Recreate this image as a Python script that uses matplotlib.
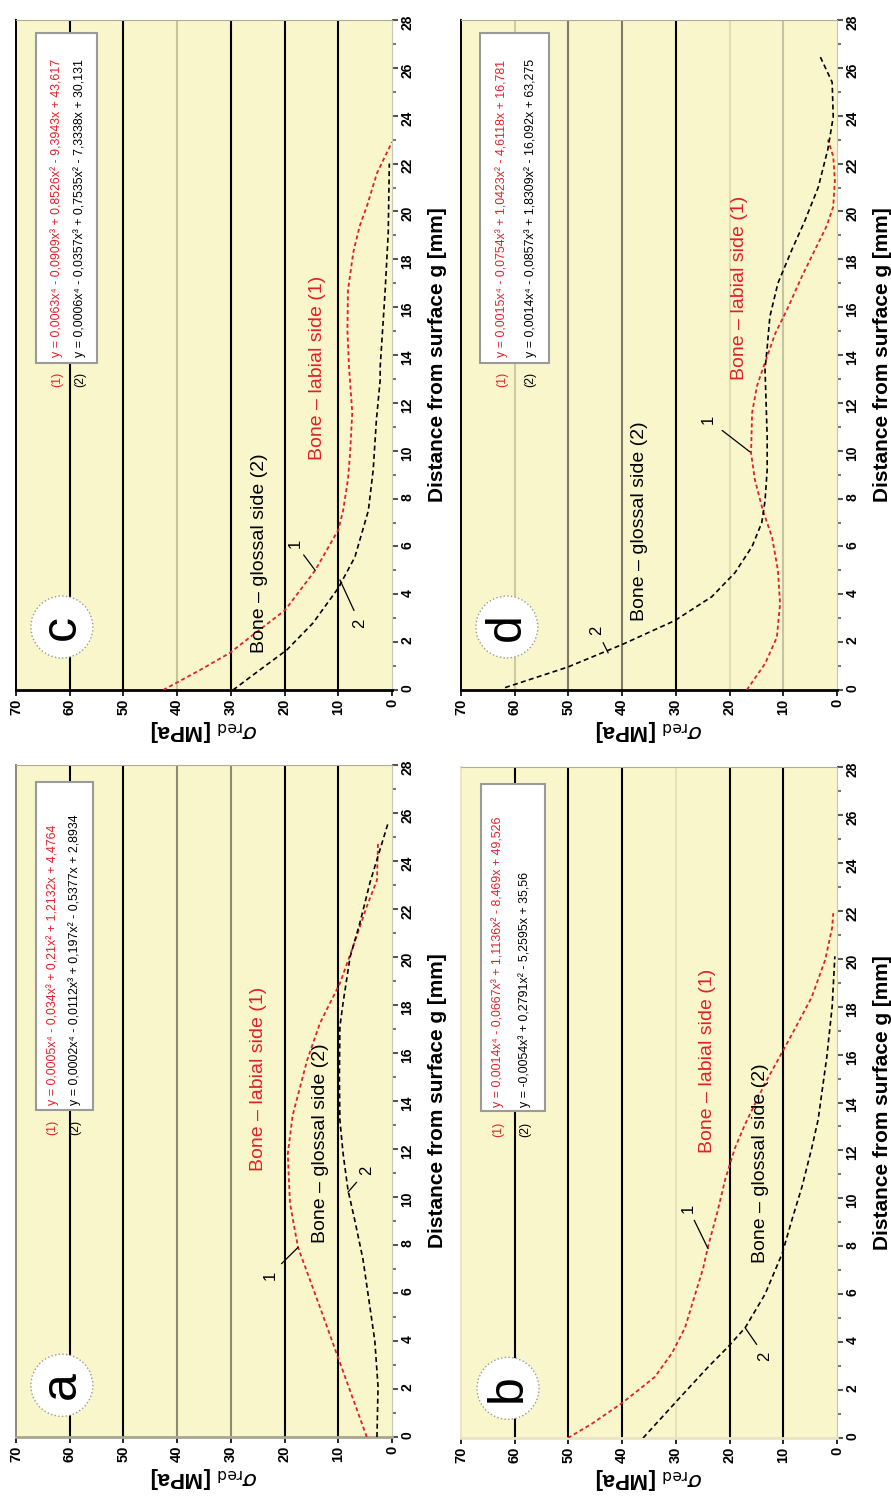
import numpy as np
import matplotlib.pyplot as plt
from matplotlib import font_manager
from matplotlib.font_manager import FontProperties
from matplotlib.patches import Ellipse, Rectangle


def has_font(name):
    try:
        font_manager.findfont(FontProperties(family=name), fallback_to_default=False)
        return True
    except Exception:
        return False


# the equations use a condensed face; fall back to a smaller regular one
if has_font('Liberation Sans Narrow'):
    NARROW, EQ_SIZE = 'Liberation Sans Narrow', 11.0
else:
    NARROW, EQ_SIZE = 'Liberation Sans', 8.9
plt.rcParams['font.family'] = ['Liberation Sans', 'DejaVu Sans']

# ---- data (g = distance [mm], s = sigma red [MPa]) ----
# panel a
a_lab_g = [0, 3.1, 5.4, 7.9, 9.75, 11.8, 13.4, 15.7, 17.25, 18.9, 20.4, 22.1, 23.2, 24.8]
a_lab_s = [4.7, 9.7, 13.4, 17.5, 19.0, 19.4, 18.5, 15.8, 13.4, 9.7, 7.3, 4.7, 2.8, 2.6]
a_glo_g = [0, 2.1, 4.0, 5.4, 7.4, 9.0, 10.3, 11.8, 13.2, 15.0, 17.1, 18.1, 20.0, 21.4, 23.1, 24.5, 25.6]
a_glo_s = [2.8, 2.6, 3.2, 4.1, 5.4, 6.9, 8.2, 9.1, 9.7, 9.8, 9.7, 9.1, 7.8, 6.0, 4.1, 2.2, 0.7]
# panel b
b_lab_g = [0, 0.6, 1.46, 2.55, 3.55, 4.6, 6.0, 7.1, 8.0, 9.4, 10.8, 12.1, 13.1, 14.8, 16.1, 17.3,
           18.4, 19.95, 21.3, 21.9]
b_lab_s = [50.1, 45.6, 40.0, 33.9, 30.7, 28.3, 26.4, 24.9, 24.0, 22.3, 20.8, 19.0, 17.1, 13.4, 10.2,
           7.3, 4.7, 2.2, 0.9, 0.7]
b_glo_g = [0, 1.6, 2.96, 3.8, 4.6, 6.0, 7.7, 9.1, 10.5, 12.1, 13.3, 15.9, 18.0, 20.1]
b_glo_s = [36.1, 29.6, 24.0, 20.3, 17.1, 13.4, 10.2, 8.4, 6.5, 4.7, 3.5, 1.9, 0.9, 0.4]
# panel c
c_lab_g = [0, 0.84, 1.55, 3.34, 5.0, 6.69, 7.5, 8.8, 9.9, 11.6, 13.5, 15.0, 16.7, 18.3, 19.4, 20.2,
           21.6, 22.9]
c_lab_s = [42.6, 35.7, 30.2, 19.9, 14.3, 10.0, 9.1, 8.2, 7.8, 7.4, 8.0, 8.3, 8.2, 7.2, 6.0, 4.7,
           2.8, 0.0]
c_glo_g = [0, 0.84, 1.67, 2.8, 4.26, 5.56, 7.5, 9.2, 11.3, 12.95, 13.5, 16.6, 19.1, 22.0]
c_glo_s = [29.6, 24.6, 19.6, 14.7, 10.0, 6.9, 4.4, 3.5, 2.9, 2.2, 2.2, 1.3, 0.7, 0.5]
# panel d
d_lab_g = [0, 1.1, 2.2, 3.6, 5.0, 6.4, 7.5, 8.8, 9.9, 11.6, 12.7, 13.3, 14.9, 15.9, 17.3, 18.4,
           19.4, 20.2, 21.3, 22.3, 23.0]
d_lab_s = [16.8, 13.4, 11.2, 10.6, 11.0, 12.1, 13.8, 15.3, 16.0, 15.8, 14.9, 14.0, 11.5, 9.3, 6.5,
           4.1, 1.9, 0.7, 0.4, 0.7, 1.7]
d_glo_g = [0.1, 0.96, 1.9, 2.9, 3.9, 4.9, 6.0, 7.0, 7.9, 9.2, 10.6, 12.0, 13.4, 14.3, 15.6, 17.0,
           18.4, 19.6, 21.0, 22.6, 23.95, 25.4, 26.5]
d_glo_s = [61.8, 50.1, 40.0, 30.2, 23.3, 19.0, 15.8, 14.0, 13.4, 13.0, 13.0, 13.2, 13.4, 13.0, 12.5,
           11.0, 8.4, 6.0, 3.5, 1.7, 0.7, 0.9, 3.2]

# trend line equations printed in each panel
eq_a = ['y = 0,0005x\u2074 - 0,034x\u00b3 + 0,21x\u00b2 + 1,2132x + 4,4764',
        'y = 0,0002x\u2074 - 0,0112x\u00b3 + 0,197x\u00b2 - 0,5377x + 2,8934']
eq_b = ['y = 0,0014x\u2074 - 0,0667x\u00b3 + 1,1136x\u00b2 - 8,469x + 49,526',
        'y = -0,0054x\u00b3 + 0,2791x\u00b2 - 5,2595x + 35,56']
eq_c = ['y = 0,0063x\u2074 - 0,0909x\u00b3 + 0,8526x\u00b2 - 9,3943x + 43,617',
        'y = 0,0006x\u2074 - 0,0357x\u00b3 + 0,7535x\u00b2 - 7,3338x + 30,131']
eq_d = ['y = 0,0015x\u2074 - 0,0754x\u00b3 + 1,0423x\u00b2 - 4,6118x + 16,781',
        'y = 0,0014x\u2074 - 0,0857x\u00b3 + 1,8309x\u00b2 - 16,092x + 63,275']

RED = '#e3202a'
BG = '#f9f6cc'
LAB = 'Bone \u2013 labial side (1)'
GLO = 'Bone \u2013 glossal side (2)'

fig = plt.figure(figsize=(8.91, 15.01), dpi=100)
W, H = 891.0, 1501.0


def make_ax(x0, x1, y0, y1):
    return fig.add_axes([x0 / W, 1 - y1 / H, (x1 - x0) / W, (y1 - y0) / H])


def draw_panel(ax, letter, lab_g, lab_s, glo_g, glo_s, eqs, grid_cols, box, txt, lead,
               circ, left_col, bot_col):
    ax.set_facecolor(BG)
    ax.set_xlim(70, 0)
    ax.set_ylim(0, 28)
    for s, c in zip(range(60, 0, -10), grid_cols):
        ax.axvline(s, color=c, lw=1.5, zorder=1)

    ax.plot(lab_s, lab_g, color=RED, lw=1.3, ls=(0, (2.2, 1.6)), zorder=3)
    ax.plot(glo_s, glo_g, color='black', lw=1.2, ls=(0, (3, 2)), zorder=3)

    # axes / ticks
    ax.set_xticks(range(0, 80, 10))
    ax.yaxis.tick_right()
    ax.yaxis.set_label_position('right')
    ax.set_yticks(range(0, 30, 2))
    ax.set_yticks(range(1, 28, 2), minor=True)
    ax.tick_params(axis='x', direction='out', length=4, width=1.2, labelrotation=90,
                   labelsize=10.5, pad=2)
    ax.tick_params(axis='y', which='major', direction='out', length=4, width=1.5,
                   labelrotation=90, labelsize=10, pad=2, color='#555555')
    ax.tick_params(axis='y', which='minor', direction='out', length=3, width=1.5,
                   color='#777777')
    for lbl in ax.get_xticklabels() + ax.get_yticklabels():
        lbl.set_fontweight('bold')
    ax.spines['top'].set_color('#b0ad95')
    ax.spines['right'].set_color('#c8c6b8')
    ax.spines['left'].set_color(left_col)
    ax.spines['left'].set_linewidth(1.4)
    ax.spines['bottom'].set_color(bot_col)
    ax.spines['bottom'].set_linewidth(2.0)
    ax.set_xlabel(r'$\sigma_{\rm red}$ [MPa]', rotation=180, fontsize=16,
                  fontweight='bold', labelpad=2)
    ax.set_ylabel('Distance from surface g [mm]', rotation=90, fontsize=15,
                  fontweight='bold', labelpad=10)

    # equation box
    bx0, by0, bx1, by1, xr, xk, ytxt, ynum = box
    ax.add_patch(Rectangle((bx0, by0), bx1 - bx0, by1 - by0, transform=ax.transAxes,
                           fc='white', ec='#9a9a9a', lw=1.5, zorder=4))
    eq_font = dict(rotation=90, ha='center', va='bottom', fontsize=EQ_SIZE,
                   family=[NARROW, 'DejaVu Sans'], zorder=5, transform=ax.transAxes)
    ax.text(xr, ytxt, eqs[0], color=RED, **eq_font)
    ax.text(xk, ytxt, eqs[1], color='black', **eq_font)
    ax.text(xr, ynum, '(1)', color=RED, **eq_font)
    ax.text(xk, ynum, '(2)', color='black', **eq_font)

    # curve names
    (ls_, lg_), (gs_, gg_) = txt
    ax.text(ls_, lg_, LAB, rotation=90, ha='center', va='bottom', color=RED, fontsize=14,
            zorder=5)
    ax.text(gs_, gg_, GLO, rotation=90, ha='center', va='bottom', color='black', fontsize=14,
            zorder=5)

    # numbered leaders
    for num, (tx, ty, px, py) in zip(['1', '2'], lead):
        ax.annotate(num, xy=(px, py), xytext=(tx, ty), rotation=90, ha='center', va='center',
                    fontsize=12, zorder=6,
                    arrowprops=dict(arrowstyle='-', color='black', lw=0.9,
                                    shrinkA=4, shrinkB=0))

    # panel letter
    cx, cy = circ
    ax.add_patch(Ellipse((cx, cy), 62 / 376, 62 / 670, transform=ax.transAxes, fc='white',
                         ec='#9a9a9a', lw=1.0, ls=':', zorder=6))
    ax.text(cx, cy, letter, transform=ax.transAxes, rotation=90, ha='center', va='center',
            fontsize=36, zorder=7)


ax_c = make_ax(16, 392, 20, 690)
ax_a = make_ax(16, 392, 765, 1437)
ax_d = make_ax(461, 837, 20, 690)
ax_b = make_ax(461, 837, 767, 1438)

draw_panel(ax_c, 'c', c_lab_g, c_lab_s, c_glo_g, c_glo_s, eq_c,
           ['black', 'black', '#c9c29c', 'black', 'black', 'black'],
           (0.053, 0.488, 0.215, 0.981, 0.109, 0.170, 0.497, 0.452),
           ((13.8, 9.6), (24.6, 1.55)),
           [(18.1, 6.14, 14.3, 5.0), (6.0, 2.8, 9.7, 4.6)],
           (0.122, 0.094), 'black', 'black')

draw_panel(ax_a, 'a', a_lab_g, a_lab_s, a_glo_g, a_glo_s, eq_a,
           ['black', 'black', '#8c8a72', '#8c8a72', 'black', 'black'],
           (0.053, 0.487, 0.205, 0.975, 0.096, 0.157, 0.494, 0.449),
           ((24.9, 11.1), (13.4, 8.1)),
           [(22.7, 6.75, 17.5, 7.9), (4.7, 11.1, 8.2, 10.2)],
           (0.122, 0.077), '#8c8a72', '#a8a690')

draw_panel(ax_d, 'd', d_lab_g, d_lab_s, d_glo_g, d_glo_s, eq_d,
           ['#cfcaa6', '#7f7a68', '#7f7a68', 'black', '#e0dcb6', '#c6c2a4'],
           (0.050, 0.488, 0.234, 0.981, 0.109, 0.184, 0.497, 0.452),
           ((18.1, 12.95), (36.7, 2.9)),
           [(24.0, 11.3, 16.2, 9.95), (44.7, 2.5, 42.6, 1.55)],
           (0.122, 0.094), 'black', 'black')

draw_panel(ax_b, 'b', b_lab_g, b_lab_s, b_glo_g, b_glo_s, eq_b,
           ['black', 'black', 'black', '#e6e2bc', 'black', 'black'],
           (0.053, 0.487, 0.223, 0.975, 0.098, 0.170, 0.494, 0.449),
           ((24.2, 11.9), (14.3, 7.3)),
           [(27.7, 9.6, 24.0, 7.9), (13.4, 3.4, 17.1, 4.6)],
           (0.125, 0.074), '#e8e4c4', '#e8e4c4')

fig.savefig('out.png', dpi=100, facecolor='white')
